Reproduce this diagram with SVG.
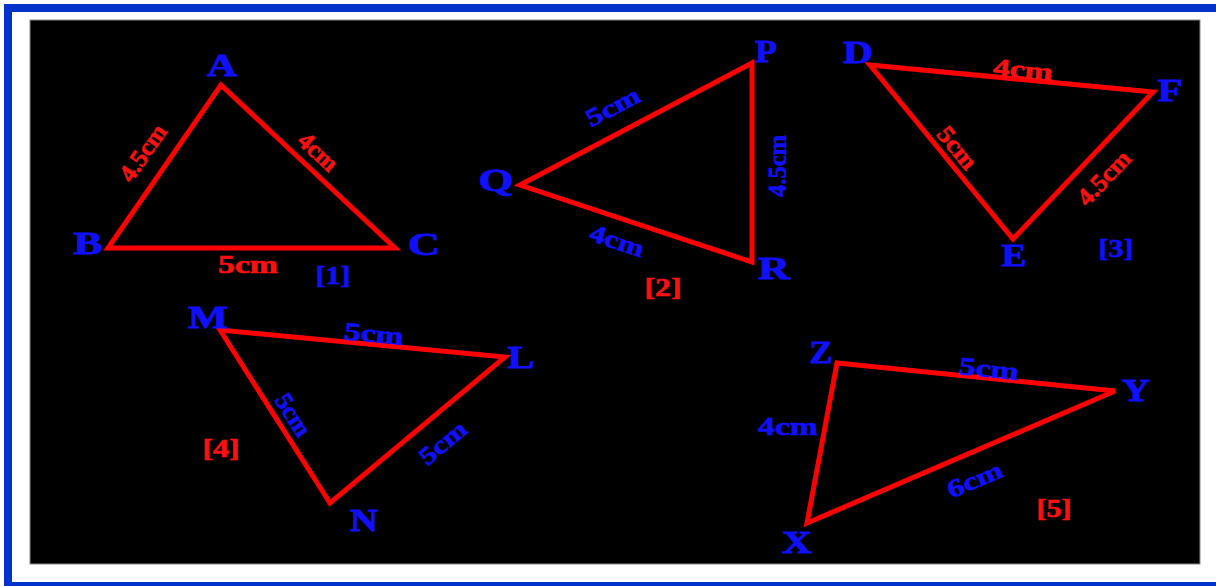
<svg xmlns="http://www.w3.org/2000/svg" width="1216" height="586" viewBox="0 0 1216 586">
<style>
.tri{fill:none;stroke:#ff0000;stroke-width:5;stroke-linejoin:miter}
.v{font-family:"Liberation Serif",serif;font-weight:bold;font-size:32px;fill:#1010ff;stroke:#1010ff;stroke-width:0.8;text-anchor:middle}
.lb{font-family:"Liberation Serif",serif;font-weight:bold;font-size:25px;text-anchor:middle;stroke-width:0.6}
.r{fill:#ff1010;stroke:#ff1010}
.b{fill:#1010ff;stroke:#1010ff}
</style>
<rect x="0" y="0" width="1216" height="586" fill="#ffffff"/>
<rect x="8" y="8" width="1240" height="578" fill="#ffffff" stroke="#0033cc" stroke-width="8"/>
<rect x="30" y="20" width="1170" height="544" fill="#000000" stroke="#888888" stroke-width="1"/>
<g id="connectors">
<polygon class="tri" points="221,85 108,248 395,248"/>
<polygon class="tri" points="752,63 520,185 752,262"/>
<polygon class="tri" points="870,65 1153,92 1013,239"/>
<polygon class="tri" points="220,330 505,357 330,503"/>
<polygon class="tri" points="837,363 1115,391 807,523"/>
</g>
<g id="triangle1">
<text class="v" x="222" y="76" textLength="30" lengthAdjust="spacingAndGlyphs">A</text>
<text class="v" x="88" y="254" textLength="29" lengthAdjust="spacingAndGlyphs">B</text>
<text class="v" x="424" y="255" textLength="32" lengthAdjust="spacingAndGlyphs">C</text>
<text class="lb r" transform="translate(143,153) rotate(-55)" y="8" textLength="64" lengthAdjust="spacingAndGlyphs">4.5cm</text>
<text class="lb r" transform="translate(318,152) rotate(43)" y="8" textLength="45" lengthAdjust="spacingAndGlyphs">4cm</text>
<text class="lb r" x="248" y="273" textLength="60" lengthAdjust="spacingAndGlyphs">5cm</text>
<text class="lb b" x="333" y="284" textLength="35" lengthAdjust="spacingAndGlyphs">[1]</text>
</g>
<g id="triangle2">
<text class="v" x="766" y="62" textLength="22" lengthAdjust="spacingAndGlyphs">P</text>
<text class="v" x="496" y="191" textLength="35" lengthAdjust="spacingAndGlyphs">Q</text>
<text class="v" x="774" y="279" textLength="32" lengthAdjust="spacingAndGlyphs">R</text>
<text class="lb b" transform="translate(613,107) rotate(-27.7)" y="8" textLength="58" lengthAdjust="spacingAndGlyphs">5cm</text>
<text class="lb b" transform="translate(778,166) rotate(-90)" y="8" textLength="62" lengthAdjust="spacingAndGlyphs">4.5cm</text>
<text class="lb b" transform="translate(617,241) rotate(18.4)" y="8" textLength="56" lengthAdjust="spacingAndGlyphs">4cm</text>
<text class="lb r" x="663" y="296" textLength="37" lengthAdjust="spacingAndGlyphs">[2]</text>
</g>
<g id="triangle3">
<text class="v" x="858" y="63" textLength="30" lengthAdjust="spacingAndGlyphs">D</text>
<text class="v" x="1170" y="101" textLength="25" lengthAdjust="spacingAndGlyphs">F</text>
<text class="v" x="1014" y="266" textLength="25" lengthAdjust="spacingAndGlyphs">E</text>
<text class="lb r" transform="translate(1023,70) rotate(5.4)" y="8" textLength="60" lengthAdjust="spacingAndGlyphs">4cm</text>
<text class="lb r" transform="translate(957,148) rotate(50.6)" y="8" textLength="48" lengthAdjust="spacingAndGlyphs">5cm</text>
<text class="lb r" transform="translate(1104,178) rotate(-46.4)" y="8" textLength="66" lengthAdjust="spacingAndGlyphs">4.5cm</text>
<text class="lb b" x="1116" y="257" textLength="35" lengthAdjust="spacingAndGlyphs">[3]</text>
</g>
<g id="triangle4">
<text class="v" x="208" y="328" textLength="40" lengthAdjust="spacingAndGlyphs">M</text>
<text class="v" x="521" y="368" textLength="27" lengthAdjust="spacingAndGlyphs">L</text>
<text class="v" x="364" y="531" textLength="28" lengthAdjust="spacingAndGlyphs">N</text>
<text class="lb b" transform="translate(374,334) rotate(5.4)" y="8" textLength="60" lengthAdjust="spacingAndGlyphs">5cm</text>
<text class="lb b" transform="translate(293,415) rotate(57.5)" y="8" textLength="46" lengthAdjust="spacingAndGlyphs">5cm</text>
<text class="lb b" transform="translate(443,443) rotate(-39.8)" y="8" textLength="54" lengthAdjust="spacingAndGlyphs">5cm</text>
<text class="lb r" x="221" y="457" textLength="37" lengthAdjust="spacingAndGlyphs">[4]</text>
</g>
<g id="triangle5">
<text class="v" x="821" y="363" textLength="23" lengthAdjust="spacingAndGlyphs">Z</text>
<text class="v" x="1136" y="401" textLength="28" lengthAdjust="spacingAndGlyphs">Y</text>
<text class="v" x="797" y="553" textLength="30" lengthAdjust="spacingAndGlyphs">X</text>
<text class="lb b" transform="translate(989,369) rotate(5.8)" y="8" textLength="60" lengthAdjust="spacingAndGlyphs">5cm</text>
<text class="lb b" x="788" y="435" textLength="60" lengthAdjust="spacingAndGlyphs">4cm</text>
<text class="lb b" transform="translate(975,480) rotate(-23.2)" y="8" textLength="58" lengthAdjust="spacingAndGlyphs">6cm</text>
<text class="lb r" x="1054" y="517" textLength="35" lengthAdjust="spacingAndGlyphs">[5]</text>
</g>
</svg>
